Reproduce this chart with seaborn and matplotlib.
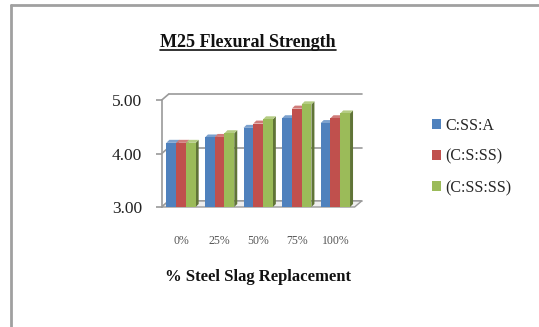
import matplotlib
matplotlib.use("Agg")
import matplotlib.pyplot as plt
import seaborn as sns
import pandas as pd
from matplotlib.lines import Line2D
from matplotlib.patches import Polygon, Rectangle
from matplotlib.transforms import offset_copy

categories = ["0%", "25%", "50%", "75%", "100%"]
series_names = ["C:SS:A", "(C:S:SS)", "(C:SS:SS)"]
css_a = [4.20, 4.30, 4.48, 4.66, 4.57]
cs_ss = [4.20, 4.31, 4.56, 4.84, 4.66]
css_ss = [4.20, 4.38, 4.64, 4.92, 4.75]
y_ticks = [3.00, 4.00, 5.00]
colors = ["#4F81BD", "#C0504D", "#9BBB59"]

df = pd.DataFrame({
    "Replacement": categories * 3,
    "Strength": css_a + cs_ss + css_ss,
    "Mix": [s for s in series_names for _ in categories],
})

sns.set_theme(style="white")
plt.rcParams["font.family"] = ["Liberation Serif", "DejaVu Serif"]

fig = plt.figure(figsize=(5.39, 3.27), dpi=100)
ax = fig.add_axes([0.300, 0.367, 0.358, 0.327])

sns.barplot(data=df, x="Replacement", y="Strength", hue="Mix",
            palette=colors, width=0.76, saturation=1, ax=ax,
            edgecolor="none", legend=True)

Y_MIN, Y_MAX = 3.0, 5.0
ax.set_ylim(Y_MIN, Y_MAX)
ax.set_xlim(-0.5, 4.5)

# depth of the wall and of each bar, in pixels
WALL_DX, WALL_DY = 7, 6
BAR_DX, BAR_DY = 3, 3


def shade(c, f):
    r, g, b = matplotlib.colors.to_rgb(c)
    return (r * f, g * f, b * f)


def tint(c, f):
    r, g, b = matplotlib.colors.to_rgb(c)
    return (r + (1 - r) * f, g + (1 - g) * f, b + (1 - b) * f)


bars = [p for p in ax.patches if isinstance(p, Rectangle) and p.get_height() > 0]

# back wall gridlines
back = offset_copy(ax.transData, fig=fig, x=WALL_DX, y=WALL_DY, units="dots")
x0, x1 = ax.get_xlim()
for v in y_ticks:
    ax.plot([x0, x1], [v, v], transform=back, color="#9a9a9a", lw=1.2,
            zorder=0.5, clip_on=False)

fig.canvas.draw()
to_data = ax.transData.inverted()


def disp_offset(px, py, dx, dy):
    # shift a data point by (dx, dy) screen pixels
    d = ax.transData.transform((px, py))
    return tuple(to_data.transform((d[0] + dx, d[1] + dy)))


# side-wall connectors from the axis to the back wall
for v in y_ticks:
    b = disp_offset(x0, v, WALL_DX, WALL_DY)
    ax.plot([x0, b[0]], [v, b[1]], color="#9a9a9a", lw=1.2,
            zorder=0.5, clip_on=False)

floor = Polygon([(x0, Y_MIN), disp_offset(x0, Y_MIN, WALL_DX, WALL_DY),
                 disp_offset(x1, Y_MIN, WALL_DX, WALL_DY), (x1, Y_MIN)],
                closed=True, facecolor="#eeeeee", edgecolor="#9a9a9a", lw=1.0,
                zorder=0.6, clip_on=False)
ax.add_patch(floor)

# give every bar a top cap and a right face
bars.sort(key=lambda p: p.get_x())
for i, bar in enumerate(bars):
    z = 2 + i * 0.01
    bar.set_zorder(z + 0.005)
    c = bar.get_facecolor()
    bx0 = bar.get_x()
    bx1 = bx0 + bar.get_width()
    by0 = max(bar.get_y(), Y_MIN)
    by1 = bar.get_y() + bar.get_height()
    side = Polygon([(bx1, by0), disp_offset(bx1, by0, BAR_DX, BAR_DY),
                    disp_offset(bx1, by1, BAR_DX, BAR_DY), (bx1, by1)],
                   closed=True, facecolor=shade(c, 0.62), edgecolor="none",
                   zorder=z, clip_on=False)
    top = Polygon([(bx0, by1), disp_offset(bx0, by1, BAR_DX, BAR_DY),
                   disp_offset(bx1, by1, BAR_DX, BAR_DY), (bx1, by1)],
                  closed=True, facecolor=tint(c, 0.25), edgecolor="none",
                  zorder=z, clip_on=False)
    ax.add_patch(side)
    ax.add_patch(top)

ax.grid(False)
ax.set_yticks(y_ticks)
ax.set_yticklabels([f"{v:.2f}" for v in y_ticks], fontsize=12.5, color="#222222")
ax.tick_params(axis="x", labelsize=8.5, colors="#555555", length=0, pad=20)
ax.tick_params(axis="y", length=4, width=1.2, color="#9a9a9a", pad=10, left=True)
for s in ["top", "right", "bottom"]:
    ax.spines[s].set_visible(False)
ax.spines["left"].set_color("#9a9a9a")
ax.spines["left"].set_linewidth(1.2)

ax.set_ylabel("")
ax.set_xlabel("% Steel Slag Replacement", fontsize=12, fontweight="bold",
              labelpad=16, color="#111111")

handles, labels = ax.get_legend_handles_labels()
ax.legend(handles, labels, loc="center left", bbox_to_anchor=(1.37, 0.47),
          frameon=False, fontsize=11.5, handlelength=0.55, handleheight=0.55,
          handletextpad=0.25, labelspacing=0.95, borderaxespad=0)

title = fig.text(0.46, 0.856, "M25 Flexural Strength", ha="center", va="baseline",
                 fontsize=13, fontweight="bold", color="#111111")

# underline under the title
fig.canvas.draw()
bb = title.get_window_extent().transformed(fig.transFigure.inverted())
fig.add_artist(Line2D([bb.x0, bb.x1], [bb.y0 + 0.003, bb.y0 + 0.003],
                      transform=fig.transFigure, color="#111111", linewidth=1.2))

# chart-area border (left and top edges)
fig.add_artist(Line2D([0.021, 0.021], [0.0, 0.984], transform=fig.transFigure,
                      color="#a0a0a0", linewidth=2))
fig.add_artist(Line2D([0.021, 1.0], [0.984, 0.984], transform=fig.transFigure,
                      color="#a0a0a0", linewidth=2))

fig.savefig("out.png", dpi=100, facecolor="white")
